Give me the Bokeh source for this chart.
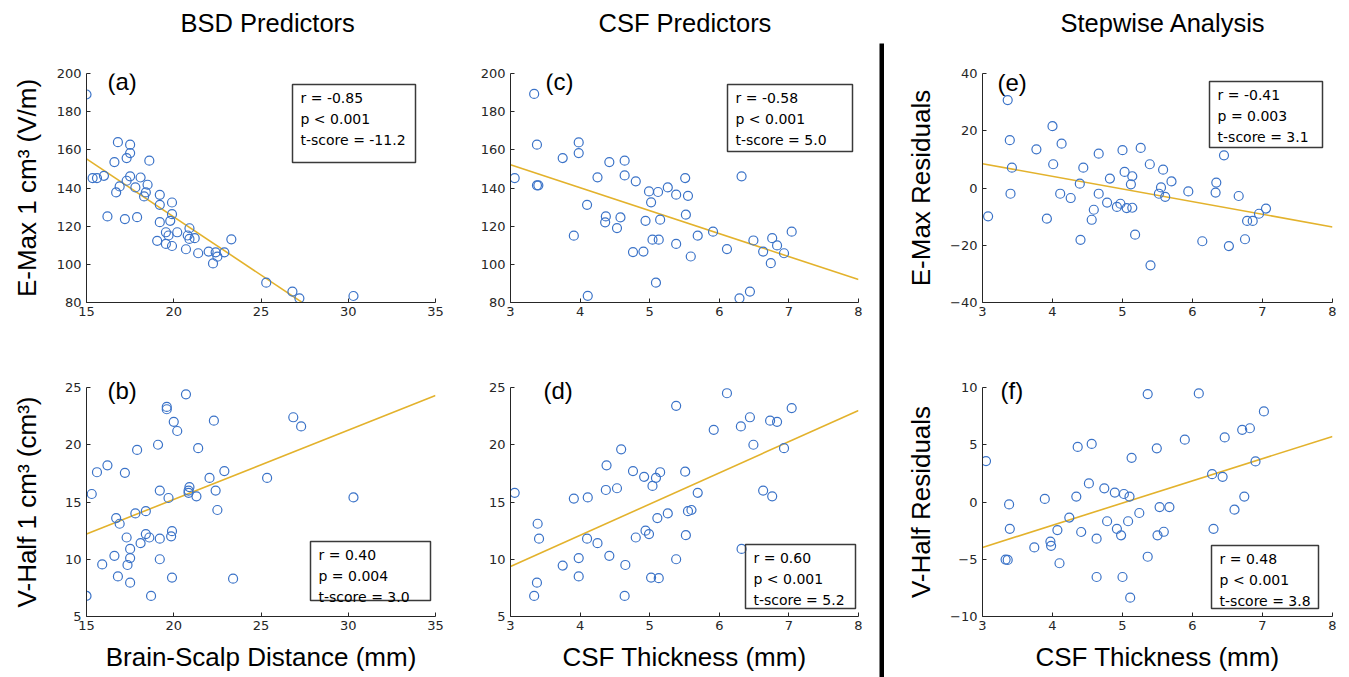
from bokeh.plotting import figure
from bokeh.models import Range1d, BoxAnnotation, Label, FixedTicker, Spacer, Title
from bokeh.layouts import row, column
from bokeh.embed import file_html
from bokeh.resources import INLINE

# ---------------- data ----------------
# (a) BSD vs E-Max
bsd_a = [15.0, 16.8, 17.5, 17.5, 17.3, 16.6, 18.6, 15.35, 15.6, 16.0, 17.5, 18.1, 17.3, 16.9,
         17.8, 18.5, 16.7, 18.4, 18.3, 19.2, 19.2, 19.9, 16.2, 17.2, 17.9, 19.9, 19.8, 19.2,
         20.9, 19.55, 20.2, 19.7, 20.8, 20.9, 21.2, 19.05, 19.55, 19.9, 20.7, 21.4, 22.0,
         22.4, 22.9, 22.5, 22.25, 23.3, 25.3, 26.8, 27.2, 30.3]
emax_a = [189, 164, 162.7, 158.3, 155.7, 153.6, 154.3, 145.2, 145.2, 146.4, 146.1, 145.5, 143.8,
          140.8, 140.3, 141.7, 137.7, 137.7, 135.6, 136.4, 131.2, 132.4, 125.1, 123.7, 124.7,
          126.3, 122.8, 122.1, 118.9, 116.8, 116.8, 115.1, 115.1, 113.3, 113.7, 112.3, 110.7,
          109.6, 107.9, 105.8, 106.7, 106.3, 106.3, 104.0, 100.5, 113.1, 90.4, 85.7, 82.2, 83.4]
fit_a_x = [15, 35]
fit_a_y = [155.3, 33.5]

# (b) BSD vs V-Half
bsd_b = [20.7, 19.6, 19.6, 20.0, 20.2, 22.3, 26.85, 27.3, 19.1, 21.4, 17.9, 16.2, 15.6, 17.2,
         22.9, 22.05, 25.35, 15.3, 19.2, 19.7, 20.9, 20.85, 20.85, 21.3, 22.4, 30.3, 22.5,
         16.7, 16.9, 17.8, 18.4, 17.3, 18.4, 18.6, 18.1, 19.2, 19.9, 19.85, 17.5, 16.6, 17.5,
         17.35, 15.9, 19.2, 16.8, 17.5, 19.9, 23.4, 15.0, 18.7]
vhalf_b = [24.4, 23.3, 23.1, 22.0, 21.2, 22.1, 22.4, 21.6, 20.0, 19.7, 19.55, 18.2, 17.6, 17.55,
           17.7, 17.1, 17.1, 15.7, 16.0, 15.35, 16.3, 16.0, 15.8, 15.5, 16.0, 15.4, 14.3, 13.6,
           13.1, 14.0, 14.2, 11.9, 12.2, 11.9, 11.4, 11.8, 12.45, 12.0, 10.9, 10.3, 10.1, 9.5,
           9.55, 10.0, 8.5, 7.95, 8.4, 8.3, 6.8, 6.8]
fit_b_x = [15, 35]
fit_b_y = [12.2, 24.3]

# (c) CSF vs E-Max
csf_c = [3.34, 3.38, 3.06, 3.38, 3.40, 3.75, 3.98, 3.98, 4.10, 3.91, 4.11, 4.25, 4.42, 4.64,
         4.64, 4.80, 4.37, 4.36, 4.53, 4.58, 4.76, 4.91, 4.94, 4.99, 5.02, 5.12, 5.04, 5.13,
         5.15, 5.09, 5.26, 5.38, 5.51, 5.55, 5.52, 5.38, 5.59, 5.69, 5.91, 6.11, 6.32, 6.29,
         6.44, 6.49, 6.63, 6.76, 6.83, 6.74, 6.93, 7.04]
emax_c = [189.3, 162.7, 145.2, 141.4, 141.4, 155.7, 163.9, 158.3, 131.2, 115.0, 83.5, 145.6,
          153.6, 154.3, 146.6, 143.5, 125.1, 122.0, 119.0, 124.6, 106.4, 106.7, 122.8, 138.2,
          132.5, 137.9, 112.9, 112.9, 123.4, 90.4, 140.3, 136.5, 145.2, 135.9, 126.0, 110.7,
          104.1, 115.0, 117.1, 108.0, 146.1, 82.2, 85.7, 112.5, 106.7, 113.7, 109.9, 100.6,
          105.8, 117.1]
fit_c_x = [3, 8]
fit_c_y = [152.2, 92.0]

# (d) CSF vs V-Half
csf_d = [6.11, 5.38, 7.04, 6.44, 6.31, 6.73, 6.83, 5.92, 6.49, 6.93, 4.59, 4.38, 4.76, 5.15,
         5.51, 4.92, 5.09, 5.04, 4.53, 4.37, 3.06, 3.91, 4.11, 5.69, 6.63, 6.76, 5.26, 5.11,
         5.55, 5.60, 3.39, 3.41, 4.10, 4.25, 4.94, 4.99, 4.80, 5.52, 6.32, 4.42, 3.98, 5.38,
         3.75, 4.65, 3.98, 5.02, 5.13, 3.38, 3.34, 4.64]
vhalf_d = [24.5, 23.4, 23.2, 22.4, 21.6, 22.1, 22.0, 21.3, 20.0, 19.7, 19.6, 18.2, 17.7, 17.6,
           17.65, 17.2, 17.1, 16.4, 16.2, 16.05, 15.8, 15.3, 15.4, 15.8, 16.0, 15.5, 14.0, 13.6,
           14.2, 14.3, 13.1, 11.8, 11.8, 11.4, 12.5, 12.2, 11.9, 12.1, 10.9, 10.3, 10.1, 10.0,
           9.45, 9.5, 8.5, 8.4, 8.35, 7.95, 6.8, 6.8]
fit_d_x = [3, 8]
fit_d_y = [9.36, 23.0]

# (e) CSF vs E-Max residuals
csf_e = [3.36, 3.08, 3.39, 3.42, 3.40, 3.77, 4.00, 4.01, 4.13, 4.11, 3.92, 4.26, 4.39, 4.44,
         4.40, 4.66, 4.59, 4.56, 4.66, 4.82, 4.78, 4.92, 4.97, 5.00, 5.03, 5.06, 5.14, 5.12,
         5.14, 5.18, 5.26, 5.39, 5.40, 5.55, 5.52, 5.61, 5.58, 5.70, 5.94, 6.14, 6.34, 6.33,
         6.45, 6.52, 6.66, 6.75, 6.78, 6.86, 6.95, 7.05]
emax_res_e = [30.7, -9.9, 16.7, 7.1, -2.0, 13.5, 21.6, 8.3, 15.5, -2.0, -10.7, -3.5, 1.5, 7.1,
              -18.1, 12.0, -7.6, -11.1, -2.0, 3.3, -5.1, -6.6, -5.5, 13.2, 5.6, -7.0, 4.1, 1.3,
              -6.9, -16.3, 14.0, 8.3, -27.0, 0.2, -2.0, -3.1, 6.4, 2.3, -1.2, -18.6, 1.9, -1.6,
              11.4, -20.3, -2.8, -17.9, -11.5, -11.5, -9.0, -7.2]
fit_e_x = [3, 8]
fit_e_y = [8.5, -13.6]

# (f) CSF vs V-Half residuals
csf_f = [3.05, 3.38, 3.39, 3.33, 3.36, 3.74, 3.89, 3.97, 3.98, 4.10, 4.07, 4.24, 4.34, 4.36,
         4.56, 4.41, 4.52, 4.63, 4.63, 4.74, 4.78, 4.89, 4.92, 4.98, 5.00, 5.02, 5.10, 5.08,
         5.13, 5.11, 5.24, 5.36, 5.36, 5.49, 5.53, 5.50, 5.59, 5.67, 5.89, 6.09, 6.28, 6.30,
         6.43, 6.46, 6.60, 6.71, 6.74, 6.82, 6.90, 7.02]
vhalf_res_f = [3.57, -0.21, -2.34, -5.03, -5.06, -3.97, 0.27, -3.46, -3.83, -5.35, -2.45, -1.36,
               0.47, 4.81, 5.07, -2.62, 1.62, -3.20, -6.55, 1.19, -1.68, 0.82, -2.34, -2.91,
               -6.55, 0.70, 0.47, -1.68, 3.86, -8.36, -0.96, 9.43, -4.78, 4.69, -0.44, -2.91,
               -2.60, -0.44, 5.44, 9.48, 2.43, -2.34, 2.20, 5.64, -0.67, 6.30, 0.47, 6.44,
               3.54, 7.91]
fit_f_x = [3, 8]
fit_f_y = [-3.97, 5.73]

# ticks
bsd_ticks = [15, 20, 25, 30, 35]
csf_ticks = [3, 4, 5, 6, 7, 8]
emax_ticks = [80, 100, 120, 140, 160, 180, 200]
vhalf_ticks = [5, 10, 15, 20, 25]
emax_res_ticks = [-40, -20, 0, 20, 40]
vhalf_res_ticks = [-10, -5, 0, 5, 10]

column_titles = ["BSD Predictors", "CSF Predictors", "Stepwise Analysis"]

stats_a = "r = -0.85\np < 0.001\nt-score = -11.2"
stats_b = "r = 0.40\np = 0.004\nt-score = 3.0"
stats_c = "r = -0.58\np < 0.001\nt-score = 5.0"
stats_d = "r = 0.60\np < 0.001\nt-score = 5.2"
stats_e = "r = -0.41\np = 0.003\nt-score = 3.1"
stats_f = "r = 0.48\np < 0.001\nt-score = 3.8"

# ---------------- style ----------------
PT = "#3b73c8"
FIT = "#e3b22c"
AX = "#262626"
LABEL_FONT = "Liberation Sans"
TICK_FONT = "DejaVu Sans"


def blank(width, height, bg="white"):
    p = figure(width=width, height=height, output_backend="svg", toolbar_location=None,
               x_range=Range1d(0, 1), y_range=Range1d(0, 1),
               x_axis_location=None, y_axis_location=None, min_border=0)
    p.outline_line_color = None
    p.grid.visible = False
    p.background_fill_color = bg
    p.border_fill_color = bg
    return p


def panel(x, y, fx, fy, xr, yr, xt, yt, width, height, bl, br, bt, bb,
          letter, letter_pos, stats, box, ylabel=None, ylabel_standoff=0,
          xlabel=None, letter_above=False, title=None, title_offset=0):
    p = figure(width=width, height=height, output_backend="svg", toolbar_location=None,
               x_range=Range1d(*xr), y_range=Range1d(*yr),
               min_border_left=bl, min_border_right=br, min_border_top=bt,
               min_border_bottom=bb)
    p.outline_line_color = None
    p.grid.visible = False
    p.background_fill_color = "white"
    p.border_fill_color = "white"
    for ax in (p.xaxis, p.yaxis):
        ax.axis_line_color = AX
        ax.axis_line_width = 1
        ax.major_tick_line_color = AX
        ax.major_tick_in = 4
        ax.major_tick_out = 0
        ax.minor_tick_line_color = None
        ax.major_label_text_font = TICK_FONT
        ax.major_label_text_font_size = "13px"
        ax.major_label_text_color = AX
        ax.axis_label_text_font = LABEL_FONT
        ax.axis_label_text_font_size = "26px"
        ax.axis_label_text_font_style = "normal"
        ax.axis_label_text_color = "black"
    p.xaxis.ticker = FixedTicker(ticks=xt)
    p.yaxis.ticker = FixedTicker(ticks=yt)
    p.xaxis.major_label_standoff = 4
    p.yaxis.major_label_standoff = 5
    if ylabel:
        p.yaxis.axis_label = ylabel
        p.yaxis.axis_label_standoff = ylabel_standoff
    if xlabel:
        p.xaxis.axis_label = xlabel
        p.xaxis.axis_label_standoff = 9

    def dx(f):
        return xr[0] + f * (xr[1] - xr[0])

    def dy(f):
        return yr[0] + f * (yr[1] - yr[0])

    p.line(fx, fy, line_color=FIT, line_width=1.6)
    p.scatter(x, y, marker="circle", size=9, fill_color=None, line_color=PT, line_width=1.2)

    if title:
        # invisible spacer nearest the frame, then the column title above it
        p.add_layout(Title(text=title, align="left", offset=title_offset, standoff=8,
                           vertical_align="bottom", text_font=LABEL_FONT,
                           text_font_size="24px", text_font_style="normal",
                           text_color="white"), "above")
        p.add_layout(Title(text=title, align="left", offset=title_offset, standoff=0,
                           vertical_align="bottom", text_font=LABEL_FONT,
                           text_font_size="25.5px", text_font_style="normal",
                           text_color="black"), "above")

    if letter_above:
        p.add_layout(Title(text=letter, align="left", offset=letter_pos[0],
                           standoff=letter_pos[1], vertical_align="bottom",
                           text_font=LABEL_FONT, text_font_size="24px",
                           text_font_style="normal", text_color="black"), "above")
    else:
        p.add_layout(Label(x=dx(letter_pos[0]), y=dy(letter_pos[1]), text=letter,
                           text_font=LABEL_FONT, text_font_size="24px", text_color="black",
                           text_baseline="middle", text_align="left"))
    l, r, t, b = box
    p.add_layout(BoxAnnotation(left=dx(l), right=dx(r), top=dy(t), bottom=dy(b),
                               fill_alpha=0, line_color="#3a3a3a", line_width=1.5,
                               line_alpha=1))
    p.add_layout(Label(x=dx(l) + (dx(0.023) - dx(0)), y=dy(t) - (dy(0.025) - dy(0)),
                       text=stats, text_font=TICK_FONT, text_font_size="14px",
                       text_color="black", text_baseline="top", text_align="left",
                       text_line_height=1.32))
    return p


def frac_box(l, r, t, b, fl, fr, ft, fb):
    return ((l - fl) / (fr - fl), (r - fl) / (fr - fl), (fb - t) / (fb - ft), (fb - b) / (fb - ft))


def frac_pt(px, py, fl, fr, ft, fb):
    return ((px - fl) / (fr - fl), (fb - py) / (fb - ft))


C1 = (86, 435)
C2 = (510, 858)
C3 = (982, 1332)
R1 = (73, 302)
R2 = (387, 616)

pa = panel(bsd_a, emax_a, fit_a_x, fit_a_y, (15, 35), (80, 200), bsd_ticks, emax_ticks,
           470, 345, 86, 35, 73, 43, "(a)", frac_pt(107, 81, *C1, *R1), stats_a,
           frac_box(292, 415, 84, 162, *C1, *R1), ylabel="E-Max 1 cm³ (V/m)",
           ylabel_standoff=12, title=column_titles[0], title_offset=180 - 86)
pb = panel(bsd_b, vhalf_b, fit_b_x, fit_b_y, (15, 35), (5, 25), bsd_ticks, vhalf_ticks,
           470, 332, 86, 35, 42, 61, "(b)", (21, -32), stats_b,
           frac_box(310, 430, 541, 600, *C1, *R2), ylabel="V-Half 1 cm³ (cm³)",
           ylabel_standoff=20, xlabel="Brain-Scalp Distance (mm)", letter_above=True)
pc = panel(csf_c, emax_c, fit_c_x, fit_c_y, (3, 8), (80, 200), csf_ticks, emax_ticks,
           409, 345, 40, 21, 73, 43, "(c)", frac_pt(545, 81, *C2, *R1), stats_c,
           frac_box(727, 852, 84, 151, *C2, *R1), title=column_titles[1],
           title_offset=598 - 510)
pd_ = panel(csf_d, vhalf_d, fit_d_x, fit_d_y, (3, 8), (5, 25), csf_ticks, vhalf_ticks,
            409, 332, 40, 21, 42, 61, "(d)", (33, -32), stats_d,
            frac_box(745, 855, 544, 608, *C2, *R2), xlabel="CSF Thickness (mm)",
            letter_above=True)
pe = panel(csf_e, emax_res_e, fit_e_x, fit_e_y, (3, 8), (-40, 40), csf_ticks, emax_res_ticks,
           465, 345, 98, 17, 73, 43, "(e)", frac_pt(997, 82, *C3, *R1), stats_e,
           frac_box(1209, 1322, 81, 147, *C3, *R1), ylabel="E-Max Residuals",
           ylabel_standoff=11, title=column_titles[2], title_offset=1060 - 982)
pf = panel(csf_f, vhalf_res_f, fit_f_x, fit_f_y, (3, 8), (-10, 10), csf_ticks, vhalf_res_ticks,
           465, 332, 98, 17, 42, 61, "(f)", (18, -32), stats_f,
           frac_box(1211, 1318, 545, 608, *C3, *R2), ylabel="V-Half Residuals",
           ylabel_standoff=11, xlabel="CSF Thickness (mm)", letter_above=True)

sep = blank(5, 634, bg="black")

layout = row(column(pa, pb), column(pc, pd_),
             column(Spacer(width=5, height=43), sep), column(pe, pf))

open("out.html", "w").write(file_html(layout, INLINE))
